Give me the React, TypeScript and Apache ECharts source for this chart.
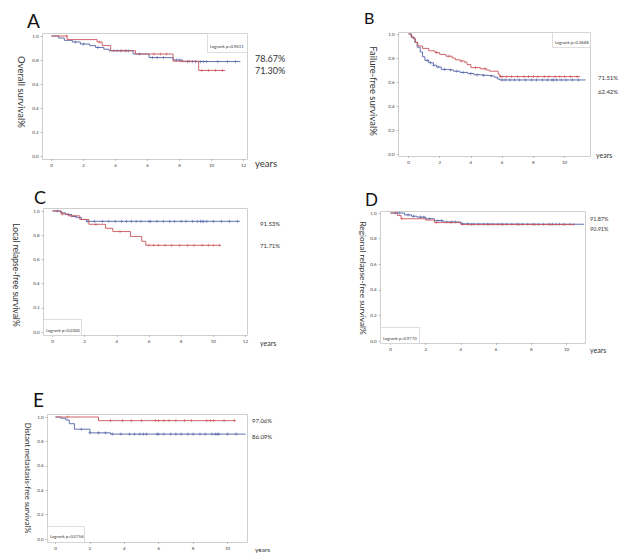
import React, { useEffect, useRef } from "react";
import * as echarts from "echarts";

type Pt = [number, number];

// ---------- data ----------
const xTicks12 = [0, 2, 4, 6, 8, 10, 12];
const xTicks10 = [0, 2, 4, 6, 8, 10];

const panelLetters = ["A", "B", "C", "D", "E"];
const yTitles = [
  "Overall survival%",
  "Failure-free survival%",
  "Local relapse-free survival%",
  "Regional relapse-free survival%",
  "Distant metastasis-free survival%",
];
const logrankTexts = [
  "Logrank p=0.9611",
  "Logrank p=0.3648",
  "Logrank p=0.0300",
  "Logrank p=0.9770",
  "Logrank p=0.0756",
];
const pctTop = ["78.67%", "71.51%", "91.53%", "91.87%", "97.06%"];
const pctBottom = ["71.30%", "62.42%", "71.71%", "90.91%", "86.09%"];

// Panel A
const aRed: Pt[] = [[0, 1], [0.98, 0.97], [2.85, 0.95], [3.17, 0.92], [3.7, 0.877], [5.25, 0.85], [7.6, 0.79], [9.2, 0.713], [10.85, 0.713]];
const aRedCens = [0.95, 3.0, 4.4, 4.7, 6.4, 6.8, 7.2, 8.1, 8.6, 9.4, 9.8, 10.25, 10.7];
const aBlue: Pt[] = [[0, 1], [0.45, 0.983], [0.8, 0.964], [1.3, 0.95], [1.8, 0.933], [2.4, 0.92], [2.75, 0.905], [3.27, 0.89], [3.6, 0.877], [5.1, 0.85], [6.1, 0.82], [7.6, 0.8], [8.2, 0.787], [11.8, 0.787]];
const aBlueCens = [1.5, 2.0, 2.9, 3.9, 4.1, 4.3, 4.6, 4.8, 5.5, 6.3, 6.6, 7.0, 7.8, 8.0, 8.5, 8.8, 9.0, 9.3, 9.5, 9.7, 10.4, 11.0, 11.5];

// Panel B
const bRed: Pt[] = [[0, 1], [0.15, 0.98], [0.3, 0.96], [0.45, 0.93], [0.6, 0.9], [0.9, 0.88], [1.3, 0.86], [1.7, 0.845], [2.0, 0.83], [2.4, 0.815], [2.8, 0.8], [3.0, 0.785], [3.3, 0.775], [3.6, 0.765], [3.75, 0.745], [4.0, 0.72], [4.6, 0.71], [5.0, 0.7], [5.2, 0.69], [5.75, 0.665], [5.85, 0.645], [11.0, 0.645]];
const bRedCens = [1.8, 2.6, 3.4, 4.3, 4.9, 5.9, 6.0, 6.3, 6.6, 7.0, 7.4, 7.7, 8.0, 8.3, 8.7, 9.0, 9.4, 9.7, 10.0, 10.4, 10.8];
const bBlue: Pt[] = [[0, 1], [0.2, 0.97], [0.4, 0.93], [0.55, 0.89], [0.75, 0.85], [0.9, 0.81], [1.05, 0.78], [1.3, 0.76], [1.6, 0.74], [1.8, 0.725], [2.1, 0.705], [2.5, 0.7], [2.9, 0.69], [3.3, 0.68], [3.8, 0.67], [4.2, 0.66], [4.6, 0.655], [5.1, 0.65], [5.5, 0.64], [5.7, 0.625], [5.85, 0.617], [11.35, 0.617]];
const bBlueCens = [1.2, 1.4, 1.6, 1.9, 2.3, 2.7, 3.1, 3.5, 4.0, 4.4, 4.8, 5.3, 6.0, 6.2, 6.5, 6.8, 7.1, 7.5, 7.9, 8.2, 8.6, 8.9, 9.2, 9.3, 9.5, 9.8, 10.1, 10.5, 10.9];

// Panel C
const cRed: Pt[] = [[0, 1], [0.55, 0.975], [1.0, 0.96], [1.7, 0.93], [2.26, 0.89], [3.3, 0.857], [3.75, 0.83], [4.85, 0.79], [5.55, 0.75], [5.8, 0.717], [10.45, 0.717]];
const cRedCens = [0.6, 1.2, 2.7, 4.2, 6.0, 6.3, 6.6, 7.0, 7.4, 7.9, 8.4, 8.8, 9.3, 9.7, 10.0, 10.4];
const cBlue: Pt[] = [[0, 1], [0.5, 0.985], [0.8, 0.97], [1.2, 0.955], [1.5, 0.945], [1.8, 0.93], [2.1, 0.915], [11.65, 0.915]];
const cBlueCens = [0.3, 1.0, 1.4, 2.2, 2.6, 3.1, 3.5, 3.9, 4.3, 4.6, 4.9, 5.2, 5.5, 6.0, 6.1, 6.5, 6.9, 7.3, 7.6, 8.0, 8.3, 8.7, 9.0, 9.2, 9.3, 9.4, 9.6, 10.0, 10.5, 11.0, 11.5];

// Panel D
const dRed: Pt[] = [[0, 1], [0.4, 0.98], [0.6, 0.955], [2.0, 0.945], [2.5, 0.925], [4.0, 0.91], [10.4, 0.91]];
const dRedCens = [0.65, 2.6, 3.4, 4.6, 5.6, 6.4, 7.3, 8.2, 9.1, 9.8, 10.4];
const dBlue: Pt[] = [[0, 1], [0.8, 0.985], [1.2, 0.975], [1.5, 0.968], [2.0, 0.955], [2.5, 0.94], [3.0, 0.93], [4.0, 0.915], [4.5, 0.912], [11.0, 0.912]];
const dBlueCens = [0.3, 0.5, 1.0, 1.3, 1.7, 1.9, 2.2, 2.7, 2.9, 3.2, 3.5, 3.7, 4.1, 4.4, 4.7, 5.0, 5.3, 5.5, 5.8, 6.1, 6.3, 6.6, 6.9, 7.2, 7.5, 7.8, 8.1, 8.4, 8.7, 9.0, 9.2, 9.4, 9.6, 9.9, 10.2];

// Panel E
const eRed: Pt[] = [[0, 1], [2.5, 0.97], [10.45, 0.97]];
const eRedCens = [0.7, 3.2, 3.9, 4.4, 5.0, 5.8, 6.0, 6.3, 6.6, 7.0, 7.5, 7.9, 8.8, 9.0, 9.2, 9.8, 10.4];
const eBlue: Pt[] = [[0, 1], [0.3, 0.99], [0.6, 0.975], [0.8, 0.945], [1.1, 0.9], [2.0, 0.87], [3.2, 0.86], [11.05, 0.86]];
const eBlueCens = [1.5, 2.0, 2.5, 2.9, 3.3, 3.8, 4.3, 4.6, 4.9, 5.1, 5.3, 5.9, 6.0, 6.3, 6.7, 7.0, 7.3, 7.7, 8.0, 8.4, 8.7, 9.1, 9.3, 9.4, 9.5, 10.0, 10.5];

const redCurves = [aRed, bRed, cRed, dRed, eRed];
const redCensors = [aRedCens, bRedCens, cRedCens, dRedCens, eRedCens];
const blueCurves = [aBlue, bBlue, cBlue, dBlue, eBlue];
const blueCensors = [aBlueCens, bBlueCens, cBlueCens, dBlueCens, eBlueCens];
const xTickSets = [xTicks12, xTicks10, xTicks12, xTicks10, xTicks10];

// ---------- layout ----------
const RED = "#c9555a";
const BLUE = "#5062a6";
const FONT = "Lato, 'Liberation Sans', sans-serif";

// frame [left, top, right, bottom], pixel of x=0, px per year, pixel of y=1, pixel of y=0
const layouts = [
  { f: [42, 33, 247, 159], x0: 51, pxy: 16, y1: 36, y0: 156 },
  { f: [398, 32, 590, 156], x0: 408, pxy: 15.6, y1: 34, y0: 154 },
  { f: [43, 208, 247, 335], x0: 52, pxy: 16.08, y1: 211, y0: 332 },
  { f: [380, 211, 585, 343], x0: 390, pxy: 17.6, y1: 213, y0: 341 },
  { f: [47, 414, 247, 542], x0: 55, pxy: 17.2, y1: 417, y0: 539 },
];

const letterPos = [[27, 20, 19], [364, 17, 16], [34, 197, 18], [365, 199, 17], [33, 399, 19]];
const titlePos = [[21, 92, 9.5], [373, 91, 9.5], [16, 275, 8.5], [363, 278, 8.3], [28, 478, 7.6]];
const pctPos = [
  { x: 255, y1: 58, y2: 70, fs: 9 },
  { x: 598, y1: 77, y2: 91, fs: 6 },
  { x: 260, y1: 223, y2: 245, fs: 6 },
  { x: 590, y1: 219, y2: 229, fs: 5.5 },
  { x: 252, y1: 420, y2: 436, fs: 6 },
];
const yearsPos = [[255, 163, 9.5], [596, 155, 7], [260, 343, 7], [590, 350, 7], [255, 549, 6.5]];
const boxPos = [
  [207, 33, 40, 19, 46],
  [552, 32, 38, 15, 42],
  [43, 319, 38, 16, 330],
  [380, 327, 39, 16, 338],
  [47, 526, 37, 16, 536],
];

function stepAt(curve: Pt[], t: number): number {
  let v = curve[0][1];
  for (const [ct, cv] of curve) {
    if (ct <= t) v = cv;
  }
  return v;
}

const PLUS = "path://M4,0 L6,0 L6,4 L10,4 L10,6 L6,6 L6,10 L4,10 L4,6 L0,6 L0,4 L4,4 Z";

export default function App() {
  const ref = useRef<HTMLDivElement>(null);
  useEffect(() => {
    if (!ref.current) return;
    const chart = echarts.init(ref.current, undefined, { renderer: "svg" });
    const grids: any[] = [];
    const xAxes: any[] = [];
    const yAxes: any[] = [];
    const series: any[] = [];
    const graphic: any[] = [];

    layouts.forEach((L, i) => {
      const [l, t, r, b] = L.f;
      // plot frame
      graphic.push({
        type: "rect", z: 0, silent: true, shape: { x: l + 0.5, y: t + 0.5, width: r - l, height: b - t },
        style: { fill: "none", stroke: "#cfcfcf", lineWidth: 1 },
      });
      grids.push({
        left: l + 0.5, top: L.y1, width: r - l, height: L.y0 - L.y1,
        show: false,
      });
      xAxes.push({
        gridIndex: i, type: "value",
        min: (l - L.x0) / L.pxy, max: (r - L.x0) / L.pxy,
        offset: b - L.y0,
        axisLine: { show: false, onZero: false }, splitLine: { show: false },
        axisTick: { show: true, length: 2, customValues: xTickSets[i], lineStyle: { color: "#999", width: 0.6 } },
        axisLabel: { customValues: xTickSets[i], fontSize: 4.5, color: "#444", margin: 4, fontFamily: FONT },
      });
      yAxes.push({
        gridIndex: i, type: "value",
        min: 0, max: 1, interval: 0.2,
        axisLine: { show: false, onZero: false }, splitLine: { show: false },
        axisTick: { show: true, length: 2, lineStyle: { color: "#999", width: 0.6 } },
        axisLabel: { fontSize: 4.5, color: "#444", margin: 4, fontFamily: FONT, formatter: (v: number) => v.toFixed(1) },
      });
      const curves = [
        { data: blueCurves[i], cens: blueCensors[i], color: BLUE },
        { data: redCurves[i], cens: redCensors[i], color: RED },
      ];
      curves.forEach((c) => {
        series.push({
          type: "line", xAxisIndex: i, yAxisIndex: i, step: "end",
          data: c.data, symbol: "none", silent: true, clip: false,
          lineStyle: { color: c.color, width: 0.9 },
        });
        series.push({
          type: "scatter", xAxisIndex: i, yAxisIndex: i, clip: false,
          data: c.cens.map((ct) => [ct, stepAt(c.data, ct)]),
          symbol: PLUS, symbolSize: 3.2, silent: true,
          itemStyle: { color: c.color },
        });
      });

      // letters
      graphic.push({
        type: "text", x: letterPos[i][0], y: letterPos[i][1],
        style: { text: panelLetters[i], fontSize: letterPos[i][2], fontFamily: FONT, fill: "#111", align: "left", verticalAlign: "middle" },
      });
      // y titles
      graphic.push({
        type: "text", x: titlePos[i][0], y: titlePos[i][1], rotation: -Math.PI / 2,
        style: { text: yTitles[i], fontSize: titlePos[i][2], fontFamily: FONT, fill: "#333", align: "center", verticalAlign: "middle" },
      });
      // percentages
      const P = pctPos[i];
      graphic.push({
        type: "text", x: P.x, y: P.y1,
        style: { text: pctTop[i], fontSize: P.fs, fontFamily: FONT, fill: "#333", align: "left", verticalAlign: "middle" },
      });
      graphic.push({
        type: "text", x: P.x, y: P.y2,
        style: { text: pctBottom[i], fontSize: P.fs, fontFamily: FONT, fill: "#333", align: "left", verticalAlign: "middle" },
      });
      // years
      graphic.push({
        type: "text", x: yearsPos[i][0], y: yearsPos[i][1],
        style: { text: "years", fontSize: yearsPos[i][2], fontFamily: FONT, fill: "#333", align: "left", verticalAlign: "middle" },
      });
      // logrank box
      const B = boxPos[i];
      graphic.push({
        type: "rect", z: 20, shape: { x: B[0] + 0.5, y: B[1] + 0.5, width: B[2], height: B[3] },
        style: { fill: "#fff", stroke: "#cfcfcf", lineWidth: 0.7 },
      });
      graphic.push({
        type: "text", z: 21, x: B[0] + 3, y: B[4],
        style: { text: logrankTexts[i], fontSize: 4.2, fontFamily: FONT, fill: "#333", align: "left", verticalAlign: "middle" },
      });
    });

    chart.setOption({
      animation: false,
      backgroundColor: "#fff",
      grid: grids,
      xAxis: xAxes,
      yAxis: yAxes,
      series,
      graphic,
    });
    return () => chart.dispose();
  }, []);
  return (
    <div
      ref={ref}
      style={{ position: "fixed", left: 0, top: 0, width: 622, height: 560, background: "#fff" }}
    />
  );
}
